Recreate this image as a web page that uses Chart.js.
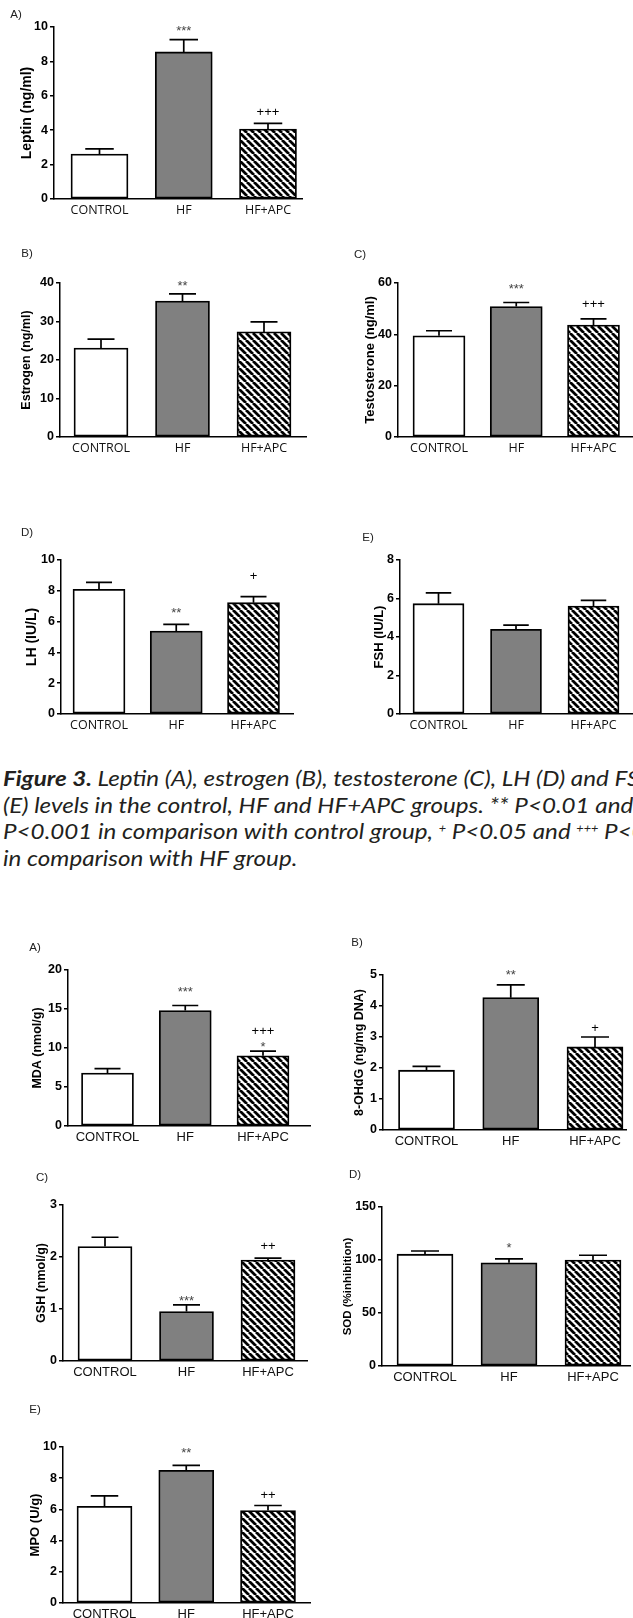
<!DOCTYPE html>
<html>
<head>
<meta charset="utf-8">
<script src="https://cdn.jsdelivr.net/npm/chart.js@4.4.1/dist/chart.umd.min.js"></script>
<style>
html, body { margin: 0; padding: 0; background: #fff; }
#page { position: relative; width: 633px; height: 1618px; overflow: hidden; background: #fff; }
#page canvas { position: absolute; }
.plabel { position: absolute; font-family: "Liberation Sans", Arial, sans-serif; font-size: 11.5px; color: #222; line-height: 1; transform: translate(-50%, -50%); white-space: nowrap; }
#caption { position: absolute; left: 3px; top: 765px; font-family: Lato, "Open Sans", sans-serif; font-style: italic; font-size: 21px; line-height: 26.6px; color: #231f20; white-space: nowrap; transform-origin: 0 0; }
#caption sup { font-size: 11px; vertical-align: 7px; line-height: 0; }
</style>
</head>
<body>
<div id="page">
  <div id="caption">
    <div><span id="fitme"><b>Figure 3.</b> Leptin (A), estrogen (B</span>), testosterone (C), LH (D) and FSH</div>
    <div>(E) levels in the control, HF and HF+APC groups. ** P&lt;0.01 and ***</div>
    <div>P&lt;0.001 in comparison with control group, <sup>+</sup> P&lt;0.05 and <sup>+++</sup> P&lt;0.001</div>
    <div>in comparison with HF group.</div>
  </div>
</div>
<script>
const groups = ['CONTROL', 'HF', 'HF+APC'];

// means and SEM
const leptin = [2.61, 8.55, 4.07];
const leptinSem = [0.31, 0.72, 0.33];
const leptinMarks = [[], ['***'], ['+++']];

const estrogen = [23.1, 35.3, 27.3];
const estrogenSem = [2.3, 1.9, 2.6];
const estrogenMarks = [[], ['**'], []];

const testosterone = [39.4, 50.8, 43.6];
const testosteroneSem = [2.0, 1.6, 2.4];
const testosteroneMarks = [[], ['***'], ['+++']];

const lh = [8.1, 5.39, 7.23];
const lhSem = [0.45, 0.43, 0.39];
const lhMarks = [[], ['**'], ['+']];

const fsh = [5.73, 4.4, 5.61];
const fshSem = [0.56, 0.22, 0.29];
const fshMarks = [[], [], []];

const mda = [6.8, 14.8, 9.0];
const mdaSem = [0.55, 0.65, 0.6];
const mdaMarks = [[], ['***'], ['+++', '*']];

const ohdg = [1.93, 4.27, 2.68];
const ohdgSem = [0.12, 0.41, 0.32];
const ohdgMarks = [[], ['**'], ['+']];

const gsh = [2.2, 0.95, 1.94];
const gshSem = [0.18, 0.13, 0.04];
const gshMarks = [[], ['***'], ['++']];

const sod = [105.5, 97.3, 100];
const sodSem = [3, 3.7, 4.5];
const sodMarks = [[], ['*'], []];

const mpo = [6.2, 8.5, 5.93];
const mpoSem = [0.67, 0.32, 0.32];
const mpoMarks = [[], ['**'], ['++']];

const fig3Cat = { family: '"Open Sans", sans-serif', size: 12.5 };
const fig4Cat = { family: '"Liberation Sans", Arial, sans-serif', size: 13 };

// layout of each panel (pixel geometry of the axes in the page)
const panels = [
  { label: 'A)', lx: 16, ly: 15, title: 'Leptin (ng/ml)', data: leptin, sem: leptinSem, marks: leptinMarks, gaps: [[], [12], [12]],
    max: 10, step: 2, ax: 54, top: 27, bottom: 199, right: 302, c0: 99.5, s: 84.25, bw: 57, tx: 27, ts: 14, cat: fig3Cat },
  { label: 'B)', lx: 27, ly: 254, title: 'Estrogen (ng/ml)', data: estrogen, sem: estrogenSem, marks: estrogenMarks, gaps: [[], [11], []],
    max: 40, step: 10, ax: 60, top: 283, bottom: 437, right: 306, c0: 101, s: 81.5, bw: 54, tx: 27, ts: 12.5, cat: fig3Cat },
  { label: 'C)', lx: 360, ly: 255, title: 'Testosterone (ng/ml)', data: testosterone, sem: testosteroneSem, marks: testosteroneMarks, gaps: [[], [17], [16]],
    max: 60, step: 20, ax: 398, top: 283, bottom: 437, right: 632, c0: 439, s: 77.25, bw: 52, tx: 370, ts: 13, cat: fig3Cat },
  { label: 'D)', lx: 27, ly: 533, title: 'LH (IU/L)', data: lh, sem: lhSem, marks: lhMarks, gaps: [[], [15], [21]],
    max: 10, step: 2, ax: 61, top: 560, bottom: 714, right: 293, c0: 99, s: 77.25, bw: 52, tx: 32, ts: 14, cat: fig3Cat },
  { label: 'E)', lx: 368, ly: 538, title: 'FSH (IU/L)', data: fsh, sem: fshSem, marks: fshMarks, gaps: [[], [], []],
    max: 8, step: 2, ax: 400, top: 560, bottom: 714, right: 632, c0: 438.5, s: 77.5, bw: 51, tx: 379, ts: 13, cat: fig3Cat },
  { label: 'A)', lx: 35, ly: 948, title: 'MDA (nmol/g)', data: mda, sem: mdaSem, marks: mdaMarks, gaps: [[], [17], [21, 8]],
    max: 20, step: 5, ax: 68, top: 970, bottom: 1126, right: 310, c0: 107.5, s: 77.75, bw: 52, tx: 38, ts: 12.5, cat: fig4Cat },
  { label: 'B)', lx: 357, ly: 943, title: '8-OHdG (ng/mg DNA)', data: ohdg, sem: ohdgSem, marks: ohdgMarks, gaps: [[], [13], [10]],
    max: 5, step: 1, ax: 383, top: 975, bottom: 1130, right: 626, c0: 426.5, s: 84.25, bw: 56, tx: 360, ts: 12.5, cat: fig4Cat },
  { label: 'C)', lx: 42, ly: 1178, title: 'GSH (nmol/g)', data: gsh, sem: gshSem, marks: gshMarks, gaps: [[], [7], [13]],
    max: 3, step: 1, ax: 63, top: 1205, bottom: 1361, right: 307, c0: 105, s: 81.5, bw: 54, tx: 42, ts: 12.5, cat: fig4Cat },
  { label: 'D)', lx: 355, ly: 1175, title: 'SOD (%inhibition)', data: sod, sem: sodSem, marks: sodMarks, gaps: [[], [14], []],
    max: 150, step: 50, ax: 382, top: 1207, bottom: 1366, right: 630, c0: 425, s: 84, bw: 56, tx: 348, ts: 11.5, cat: fig4Cat },
  { label: 'E)', lx: 35, ly: 1410, title: 'MPO (U/g)', data: mpo, sem: mpoSem, marks: mpoMarks, gaps: [[], [16], [11]],
    max: 10, step: 2, ax: 63, top: 1447, bottom: 1603, right: 310, c0: 104.5, s: 81.75, bw: 55, tx: 35, ts: 13, cat: fig4Cat }
];

const page = document.getElementById('page');
const axisFont = '"Liberation Sans", Arial, sans-serif';

function hatchTile() {
  const p = 7;
  const c = document.createElement('canvas');
  c.width = p; c.height = p;
  const g = c.getContext('2d');
  g.fillStyle = '#fff';
  g.fillRect(0, 0, p, p);
  g.strokeStyle = '#000';
  g.lineWidth = 2.8;
  g.beginPath();
  for (const k of [-p, 0, p]) { g.moveTo(k, 0); g.lineTo(k + p, p); }
  g.stroke();
  return c;
}
const tile = hatchTile();

function makeChart(p) {
  const padTop = 34, yw = 52, xh = 26, padRight = 3;
  const left = p.ax - yw, topPx = p.top - padTop;
  const w = Math.round(p.right - left + padRight), h = Math.round(p.bottom - topPx + xh);
  const cv = document.createElement('canvas');
  cv.width = w; cv.height = h;
  cv.style.left = left + 'px'; cv.style.top = topPx + 'px';
  cv.style.width = w + 'px'; cv.style.height = h + 'px';
  page.appendChild(cv);
  const hatch = cv.getContext('2d').createPattern(tile, 'repeat');

  const xmin = -(p.c0 - p.ax) / p.s;
  const xmax = (p.right - p.c0) / p.s;
  const lh = p.ts * 1.2;

  const errBars = {
    id: 'errBars',
    afterDatasetsDraw(chart) {
      const ctx = chart.ctx;
      const y = chart.scales.y;
      const meta = chart.getDatasetMeta(0);
      ctx.save();
      meta.data.forEach((bar, i) => {
        const ye = y.getPixelForValue(p.data[i] + p.sem[i]);
        const cap = p.bw * 0.5;
        ctx.strokeStyle = '#000';
        ctx.lineWidth = 1.7;
        ctx.beginPath();
        ctx.moveTo(bar.x, bar.y);
        ctx.lineTo(bar.x, ye);
        ctx.moveTo(bar.x - cap / 2, ye);
        ctx.lineTo(bar.x + cap / 2, ye);
        ctx.stroke();
        p.marks[i].forEach((m, j) => {
          const fs = 13;
          const star = m[0] === '*';
          const yc = ye - p.gaps[i][j];
          ctx.font = fs + 'px ' + axisFont;
          ctx.fillStyle = star ? '#444' : '#000';
          ctx.textAlign = 'center';
          ctx.textBaseline = 'alphabetic';
          ctx.fillText(m, bar.x, yc + (star ? 0.57 : 0.36) * fs);
        });
      });
      ctx.restore();
    }
  };

  new Chart(cv, {
    type: 'bar',
    data: {
      datasets: [{
        data: p.data.map((v, i) => ({ x: i, y: v })),
        backgroundColor: ['#ffffff', '#808080', hatch],
        borderColor: '#000',
        borderWidth: 1.8,
        borderSkipped: false,
        barThickness: p.bw
      }]
    },
    options: {
      responsive: false,
      animation: false,
      devicePixelRatio: 1,
      layout: { padding: { top: padTop, right: padRight, left: 0, bottom: 0 } },
      plugins: { legend: { display: false }, tooltip: { enabled: false } },
      scales: {
        x: {
          type: 'linear',
          offset: false,
          min: xmin, max: xmax,
          grid: { display: false, drawTicks: false, offset: false },
          border: { display: true, color: '#000', width: 1.5 },
          afterBuildTicks: s => { s.ticks = groups.map((g, i) => ({ value: i })); },
          ticks: {
            callback: v => groups[v],
            color: '#111',
            font: { family: p.cat.family, size: p.cat.size },
            padding: 4, maxRotation: 0, autoSkip: false
          },
          afterFit: s => { s.height = xh; s.paddingLeft = 0; s.paddingRight = 0; }
        },
        y: {
          min: 0, max: p.max,
          ticks: { stepSize: p.step, color: '#000', font: { family: axisFont, size: 12.5, weight: 'bold' }, padding: 2 },
          grid: { drawOnChartArea: false, drawTicks: true, tickLength: 4, color: '#000', lineWidth: 1.5 },
          border: { display: true, color: '#000', width: 1.5 },
          title: {
            display: true, text: p.title, color: '#000',
            font: { family: axisFont, size: p.ts, weight: 'bold' },
            padding: { top: p.tx - left - lh / 2, bottom: 0 }
          },
          afterFit: s => { s.width = yw; s.paddingTop = 0; s.paddingBottom = 0; }
        }
      }
    },
    plugins: [errBars]
  });

  const lab = document.createElement('div');
  lab.className = 'plabel';
  lab.textContent = p.label;
  lab.style.left = p.lx + 'px';
  lab.style.top = p.ly + 'px';
  page.appendChild(lab);
}

panels.forEach(makeChart);

// squeeze the caption so its line breaks fall where the original's do
const cap = document.getElementById('caption');
const fit = document.getElementById('fitme');
cap.style.transform = 'scaleX(' + (313 / fit.getBoundingClientRect().width) + ')';
</script>
</body>
</html>
